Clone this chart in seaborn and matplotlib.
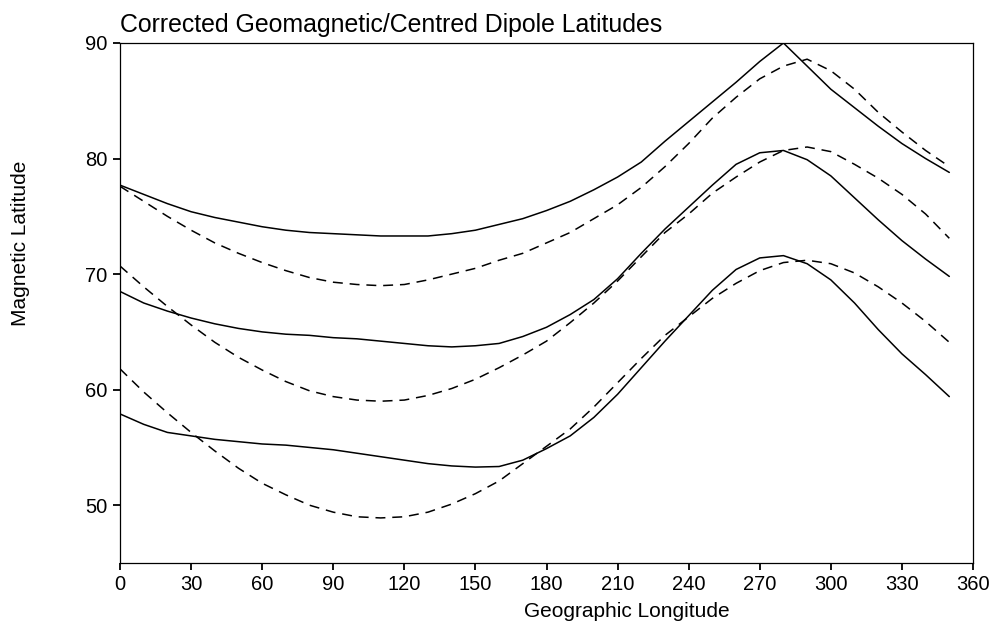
import matplotlib
matplotlib.use("Agg")
import matplotlib.pyplot as plt
import seaborn as sns
import pandas as pd

# Geographic longitude of each sample (degrees east)
longitude = list(range(0, 360, 10))

# Corrected geomagnetic latitudes along three dipole-latitude bands
cgm_high = [77.7, 76.9, 76.1, 75.4, 74.9, 74.5, 74.1, 73.8, 73.6, 73.5, 73.4, 73.3,
            73.3, 73.3, 73.5, 73.8, 74.3, 74.8, 75.5, 76.3, 77.3, 78.4, 79.7, 81.5,
            83.2, 84.9, 86.6, 88.4, 90.0, 88.0, 86.0, 84.4, 82.8, 81.3, 80.0, 78.8]
cgm_mid = [68.5, 67.5, 66.8, 66.2, 65.7, 65.3, 65.0, 64.8, 64.7, 64.5, 64.4, 64.2,
           64.0, 63.8, 63.7, 63.8, 64.0, 64.6, 65.4, 66.5, 67.8, 69.6, 71.8, 73.9,
           75.8, 77.7, 79.5, 80.5, 80.7, 79.9, 78.5, 76.6, 74.7, 72.9, 71.3, 69.8]
cgm_low = [57.9, 57.0, 56.3, 56.0, 55.7, 55.5, 55.3, 55.2, 55.0, 54.8, 54.5, 54.2,
           53.9, 53.6, 53.4, 53.3, 53.35, 53.9, 54.9, 56.0, 57.6, 59.6, 61.9, 64.2,
           66.4, 68.6, 70.4, 71.4, 71.6, 70.9, 69.5, 67.5, 65.2, 63.1, 61.3, 59.4]

# Centred dipole latitudes for the same bands
dip_high = [77.6, 76.3, 75.0, 73.8, 72.7, 71.8, 71.0, 70.3, 69.7, 69.3, 69.1, 69.0,
            69.1, 69.5, 70.0, 70.5, 71.2, 71.8, 72.7, 73.6, 74.8, 76.0, 77.5, 79.3,
            81.3, 83.5, 85.3, 86.9, 88.0, 88.6, 87.6, 86.0, 84.0, 82.3, 80.7, 79.3]
dip_mid = [70.7, 68.9, 67.2, 65.6, 64.1, 62.8, 61.7, 60.7, 59.9, 59.4, 59.1, 59.0,
           59.1, 59.5, 60.1, 60.9, 61.9, 63.0, 64.2, 65.8, 67.5, 69.4, 71.5, 73.6,
           75.2, 77.0, 78.4, 79.7, 80.7, 81.0, 80.6, 79.5, 78.3, 76.9, 75.2, 73.1]
dip_low = [61.8, 59.8, 58.0, 56.3, 54.7, 53.2, 51.9, 50.9, 50.0, 49.4, 49.0, 48.9,
           49.0, 49.4, 50.1, 51.0, 52.1, 53.6, 55.1, 56.6, 58.5, 60.6, 62.7, 64.7,
           66.3, 67.9, 69.2, 70.3, 71.0, 71.2, 70.9, 70.1, 68.9, 67.5, 65.9, 64.1]

x_ticks = list(range(0, 361, 30))
y_ticks = [50, 60, 70, 80, 90]

series = {
    ("CGM", "high"): cgm_high, ("CGM", "mid"): cgm_mid, ("CGM", "low"): cgm_low,
    ("Dipole", "high"): dip_high, ("Dipole", "mid"): dip_mid, ("Dipole", "low"): dip_low,
}
frames = []
for (kind, band), vals in series.items():
    frames.append(pd.DataFrame({"longitude": longitude, "latitude": vals,
                                "kind": kind, "band": band}))
df = pd.concat(frames, ignore_index=True)

sns.set_theme(style="ticks")
plt.rcParams["font.family"] = ["Liberation Sans", "DejaVu Sans"]
plt.rcParams["text.color"] = "black"
plt.rcParams["axes.labelcolor"] = "black"

fig = plt.figure(figsize=(9.93, 6.28), dpi=100)
ax = fig.add_axes([120 / 993, 1 - 563 / 628, 853 / 993, 520 / 628])

sns.lineplot(data=df, x="longitude", y="latitude", style="kind", units="band",
             estimator=None, color="black", linewidth=1.1, sort=False,
             dashes={"CGM": "", "Dipole": (6.5, 4.5)}, legend=False, ax=ax)

ax.set_xlim(0, 360)
ax.set_ylim(45, 90)
ax.set_xticks(x_ticks)
ax.set_yticks(y_ticks)
ax.tick_params(axis="both", direction="out", length=5, width=1.3, labelsize=14.5,
               pad=4, colors="black")
ax.tick_params(top=False, right=False)
for side in ["left", "bottom", "top", "right"]:
    ax.spines[side].set_visible(True)
    ax.spines[side].set_color("black")
    ax.spines[side].set_linewidth(0.9)

ax.set_xlabel("Geographic Longitude", fontsize=15, color="black")
ax.set_ylabel("Magnetic Latitude", fontsize=15, color="black")
ax.xaxis.set_label_coords(0.594, -0.075)
ax.yaxis.set_label_coords(-0.105, 0.614)
ax.set_title("Corrected Geomagnetic/Centred Dipole Latitudes", loc="left",
             fontsize=17.9, pad=8, color="black")

fig.savefig("out.png", dpi=100, facecolor="white")
